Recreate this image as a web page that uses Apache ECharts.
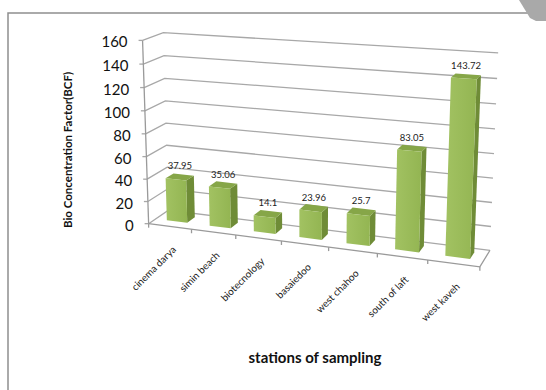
<!DOCTYPE html>
<html>
<head>
<meta charset="utf-8">
<script src="https://cdn.jsdelivr.net/npm/echarts@6/dist/echarts.min.js"></script>
<style>
  html, body { margin: 0; padding: 0; background: #fff; }
  #chart { width: 546px; height: 390px; }
</style>
</head>
<body>
<div id="chart"></div>
<script>
// Sampling stations and their bio concentration factor
const stations = ['cinema darya', 'simin beach', 'biotecnology', 'basaiedoo', 'west chahoo', 'south of laft', 'west kaveh'];
const bcf = [37.95, 35.06, 14.1, 23.96, 25.7, 83.05, 143.72];
const yTicks = [0, 20, 40, 60, 80, 100, 120, 140, 160];

// Box geometry: (u across stations, v up the value axis, w depth: 0 = back wall, 1 = front)
// mapped to screen points; a perspective projection is fitted to these anchors.
const frameAnchors = [
  [[0, 1, 0], [165, 32]],
  [[0, 0, 0], [167, 212]],
  [[1, 1, 0], [498, 53]],
  [[1, 0, 0], [490, 249]],
  [[0, 0, 1], [150, 222]],
  [[1, 0, 1], [480, 268]],
  [[0, 1, 1], [141, 41]]
];
const BAR_FRONT = 0.64;
const BAR_BACK = 0.24;
const BAR_RATIO = 0.48;

function solveLinear(M, b) {
  const n = b.length;
  const A = M.map((row, i) => row.concat([b[i]]));
  for (let c = 0; c < n; c++) {
    let p = c;
    for (let r = c + 1; r < n; r++) if (Math.abs(A[r][c]) > Math.abs(A[p][c])) p = r;
    [A[c], A[p]] = [A[p], A[c]];
    for (let r = 0; r < n; r++) {
      if (r === c) continue;
      const f = A[r][c] / A[c][c];
      for (let k = c; k <= n; k++) A[r][k] -= f * A[c][k];
    }
  }
  return A.map((row, i) => row[n] / row[i]);
}

function fitProjection(anchors) {
  const rows = [], rhs = [];
  anchors.forEach(([[u, v, w], [x, y]]) => {
    rows.push([u, v, w, 1, 0, 0, 0, 0, -x * u, -x * v, -x * w]); rhs.push(x);
    rows.push([0, 0, 0, 0, u, v, w, 1, -y * u, -y * v, -y * w]); rhs.push(y);
  });
  const N = [], r = [];
  for (let i = 0; i < 11; i++) {
    N.push([]);
    let s = 0;
    for (let j = 0; j < 11; j++) {
      let t = 0;
      for (let k = 0; k < rows.length; k++) t += rows[k][i] * rows[k][j];
      N[i].push(t);
    }
    for (let k = 0; k < rows.length; k++) s += rows[k][i] * rhs[k];
    r.push(s);
  }
  return solveLinear(N, r);
}

const P = fitProjection(frameAnchors);
function project(u, v, w) {
  const d = P[8] * u + P[9] * v + P[10] * w + 1;
  return [(P[0] * u + P[1] * v + P[2] * w + P[3]) / d, (P[4] * u + P[5] * v + P[6] * w + P[7]) / d];
}

// Category index / value -> normalised (u, v) through the chart's own axes
function toUV(api, params, cat, val) {
  const c = api.coord([cat, val]);
  const cs = params.coordSys;
  return [(c[0] - cs.x) / cs.width, (cs.y + cs.height - c[1]) / cs.height];
}

const GRID_COLOR = '#a8a8a8';
const FONT = 'Lato, "Liberation Sans", sans-serif';

function line(points, color, width) {
  return { type: 'polyline', shape: { points }, style: { stroke: color || GRID_COLOR, lineWidth: width || 1.3, fill: null }, silent: true };
}

// Gridlines on side and back walls, with value labels on the front-left edge
function renderGrid(params, api) {
  const t = api.value(1);
  const v = toUV(api, params, 0, t)[1];
  const front = project(0, v, 1);
  const children = [
    line([front, project(0, v, 0), project(1, v, 0)]),
    line([[front[0] - 4, front[1]], front]),
    { type: 'text', x: front[0] - 15, y: front[1] + 1, style: { text: String(t), align: 'right', verticalAlign: 'middle', fill: '#111', font: '15px ' + FONT }, silent: true }
  ];
  return { type: 'group', children };
}

// Floor edges and the vertical value axis
function renderFrame(params, api) {
  const v0 = toUV(api, params, 0, 0)[1];
  const v1 = toUV(api, params, 0, 160)[1];
  return {
    type: 'group',
    children: [
      line([project(0, v0, 1), project(0, v1, 1)], '#9a9a9a', 1.3),
      line([project(0, v0, 1), project(1, v0, 1), project(1, v0, 0)], '#9a9a9a', 1.3)
    ]
  };
}

// Station names below the floor and tick marks on its front edge
function renderCategory(params, api) {
  const i = api.value(0);
  const [uc, v0] = toUV(api, params, i, 0);
  const half = api.size([1, 0])[0] / params.coordSys.width / 2;
  const children = [];
  const ticks = i === 0 ? [uc - half, uc + half] : [uc + half];
  ticks.forEach(u => {
    const p = project(u, v0, 1);
    children.push(line([p, [p[0], p[1] + 4]], '#9a9a9a', 1.3));
  });
  const c = project(uc, v0, 1);
  children.push({
    type: 'text', x: c[0] + 4, y: c[1] + 21, rotation: Math.PI / 4,
    style: { text: stations[i], align: 'right', verticalAlign: 'middle', fill: '#222', font: '10px ' + FONT },
    silent: true
  });
  return { type: 'group', children };
}

// Three-dimensional columns with their value labels
function renderBar(params, api) {
  const i = api.value(0), val = api.value(1);
  const [uc, vt] = toUV(api, params, i, val);
  const v0 = toUV(api, params, i, 0)[1];
  const half = api.size([1, 0])[0] / params.coordSys.width * BAR_RATIO / 2;
  const uL = uc - half, uR = uc + half;
  const F = BAR_FRONT, B = BAR_BACK;
  const poly = (pts, fill) => ({ type: 'polygon', shape: { points: pts }, style: { fill, stroke: null }, silent: true });
  const side = poly([project(uR, v0, F), project(uR, v0, B), project(uR, vt, B), project(uR, vt, F)], '#6f8c37');
  const top = poly([project(uL, vt, F), project(uR, vt, F), project(uR, vt, B), project(uL, vt, B)], '#86a648');
  const front = poly([project(uL, v0, F), project(uR, v0, F), project(uR, vt, F), project(uL, vt, F)], {
    type: 'linear', x: 0, y: 0, x2: 1, y2: 0,
    colorStops: [{ offset: 0, color: '#a2c262' }, { offset: 1, color: '#93b552' }]
  });
  const lp = project(uc, vt, (F + B) / 2);
  const label = { type: 'text', x: lp[0], y: lp[1] - 11, style: { text: String(val), align: 'center', verticalAlign: 'middle', fill: '#222', font: '9.5px ' + FONT }, silent: true };
  return { type: 'group', children: [side, top, front, label] };
}

const chart = echarts.init(document.getElementById('chart'), null, { renderer: 'svg' });
chart.setOption({
  animation: false,
  backgroundColor: '#ffffff',
  grid: { left: 0, right: 0, top: 0, bottom: 0, show: false },
  xAxis: { type: 'category', data: stations, show: false },
  yAxis: { type: 'value', min: 0, max: 160, interval: 20, show: false },
  graphic: [
    { type: 'polyline', shape: { points: [[8, 400], [8, 13], [560, 13]] }, style: { stroke: '#8e8e8e', lineWidth: 1.5, fill: null } },
    { type: 'polygon', shape: { points: [[519, 0], [546, 0], [546, 21], [536, 21], [530, 18]] }, style: { fill: '#a9a9a9' } },
    { type: 'text', x: 67, y: 150, rotation: Math.PI / 2, style: { text: 'Bio Concentration Factor(BCF)', align: 'center', verticalAlign: 'middle', fill: '#111', font: 'bold 11.5px ' + FONT } },
    { type: 'text', x: 315, y: 357, style: { text: 'stations of sampling', align: 'center', verticalAlign: 'middle', fill: '#111', font: 'bold 15px ' + FONT } }
  ],
  series: [
    { type: 'custom', clip: false, z: 1, data: yTicks.map(t => [0, t]), encode: { x: 0, y: 1 }, renderItem: renderGrid },
    { type: 'custom', clip: false, z: 2, data: [[0, 0]], encode: { x: 0, y: 1 }, renderItem: renderFrame },
    { type: 'custom', clip: false, z: 2, data: stations.map((s, i) => [i, 0]), encode: { x: 0, y: 1 }, renderItem: renderCategory },
    { type: 'custom', clip: false, z: 3, data: bcf.map((v, i) => [i, v]), encode: { x: 0, y: 1 }, renderItem: renderBar }
  ]
});
</script>
</body>
</html>
